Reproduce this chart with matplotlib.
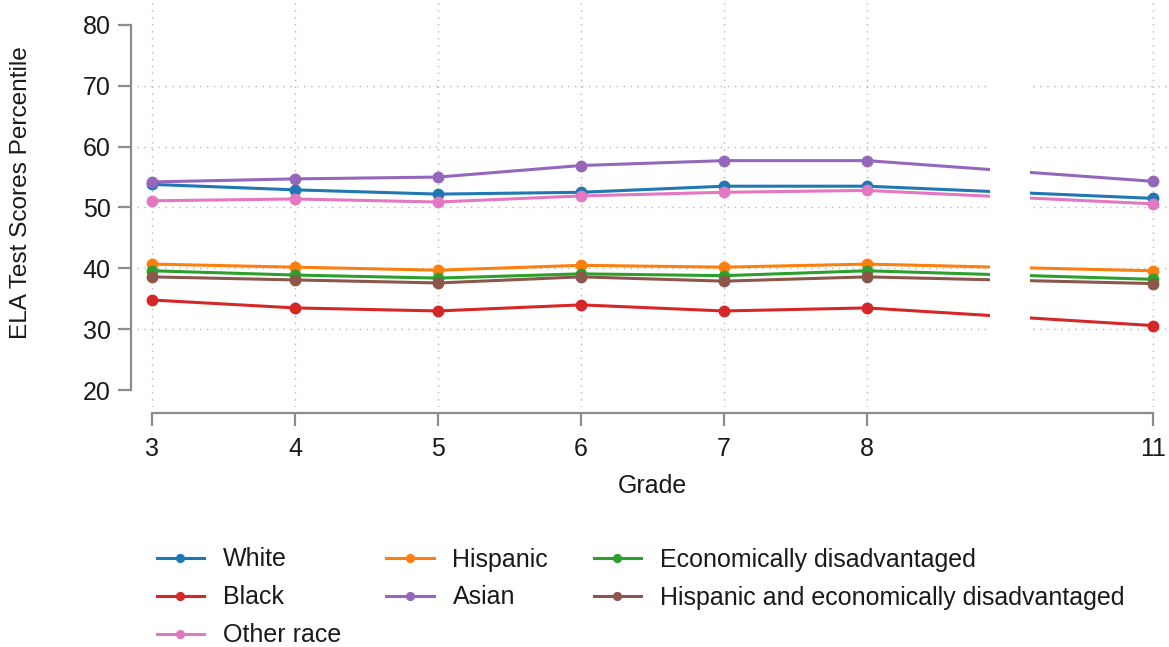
import numpy as np
import matplotlib
matplotlib.use("Agg")
import matplotlib.pyplot as plt

plt.rcParams['font.family'] = ['Liberation Sans', 'DejaVu Sans']

grades = [3, 4, 5, 6, 7, 8, 11]
grade_labels = ["3", "4", "5", "6", "7", "8", "11"]

white = [53.8, 52.9, 52.2, 52.5, 53.5, 53.5, 51.5]
black = [34.8, 33.5, 33.0, 34.0, 33.0, 33.5, 30.6]
other_race = [51.1, 51.4, 50.9, 51.9, 52.5, 52.8, 50.6]
hispanic = [40.7, 40.2, 39.7, 40.5, 40.2, 40.7, 39.6]
asian = [54.2, 54.7, 55.0, 56.9, 57.7, 57.7, 54.3]
econ_dis = [39.6, 38.9, 38.4, 39.1, 38.8, 39.6, 38.2]
hisp_econ = [38.6, 38.1, 37.6, 38.6, 37.9, 38.6, 37.5]

series = [
    ("White", white, "#1f77b4"),
    ("Black", black, "#d62728"),
    ("Other race", other_race, "#e377c2"),
    ("Hispanic", hispanic, "#ff7f0e"),
    ("Asian", asian, "#9467bd"),
    ("Economically disadvantaged", econ_dis, "#2ca02c"),
    ("Hispanic and economically disadvantaged", hisp_econ, "#8c564b"),
]

yticks = [20, 30, 40, 50, 60, 70, 80]

def fwd(x):
    x = np.asarray(x, dtype=float)
    return np.where(x <= 8, x, 8 + (x - 8) * 2.0 / 3.0)

def inv(y):
    y = np.asarray(y, dtype=float)
    return np.where(y <= 8, y, 8 + (y - 8) * 1.5)

FS = 18
TXT = '#1a1a1a'

fig = plt.figure(figsize=(11.69, 6.47), dpi=100)
ax = fig.add_axes([137/1169, 1 - 407/647, (1167-137)/1169, (407-3)/647])
ax.set_xscale('function', functions=(fwd, inv))

for name, vals, col in series:
    ax.plot(grades, vals, color=col, lw=2.2, marker='o', markersize=7.5,
            label=name, zorder=3)

# break in the axis between grade 8 and 11
ax.axvspan(9.29, 9.71, ymin=0.015, ymax=1, color='white', zorder=4, lw=0)

ax.set_xlim(2.895, 11.147)
ax.set_ylim(17.22, 83.6)
ax.set_xticks(grades)
ax.set_xticklabels(grade_labels)
ax.set_yticks(yticks)
ax.xaxis.set_minor_locator(matplotlib.ticker.NullLocator())

for side in ['top', 'right']:
    ax.spines[side].set_visible(False)
for side in ['left', 'bottom']:
    ax.spines[side].set_color('#8c8c8c')
    ax.spines[side].set_linewidth(1.6)
    ax.spines[side].set_position(('outward', 4))
    ax.spines[side].set_zorder(5)
ax.spines['left'].set_bounds(20, 80)
ax.spines['bottom'].set_bounds(3, 11)

ax.tick_params(axis='both', which='major', length=9.5, width=1.6, color='#8c8c8c',
               labelsize=FS, labelcolor=TXT)
ax.tick_params(axis='y', pad=5.5)
ax.tick_params(axis='x', pad=8)

ax.grid(True, which='major', color='#b5b5b5', linestyle=(0, (1, 4)), lw=1.0, zorder=0)
ax.set_axisbelow(True)
for gl, t in zip(ax.get_ygridlines(), yticks):
    if t in (20, 80):
        gl.set_visible(False)

ax.set_xlabel("Grade", fontsize=FS, color=TXT)
ax.xaxis.set_label_coords(0.5, -(486 - 407) / 404)
ax.xaxis.label.set_va('center')
ax.set_ylabel("ELA Test Scores Percentile", fontsize=17.6, color=TXT)
ax.yaxis.set_label_coords(-(137 - 32) / 1030, (407 - 193) / 404)

fig.legend(loc='upper left', bbox_to_anchor=(134/1169, 1 - 525/647), ncol=3,
           frameon=False, fontsize=FS, handlelength=1.9, handletextpad=0.75,
           columnspacing=1.81, labelspacing=0.56, markerscale=0.75,
           labelcolor=TXT)

fig.savefig("out.png", dpi=100)
